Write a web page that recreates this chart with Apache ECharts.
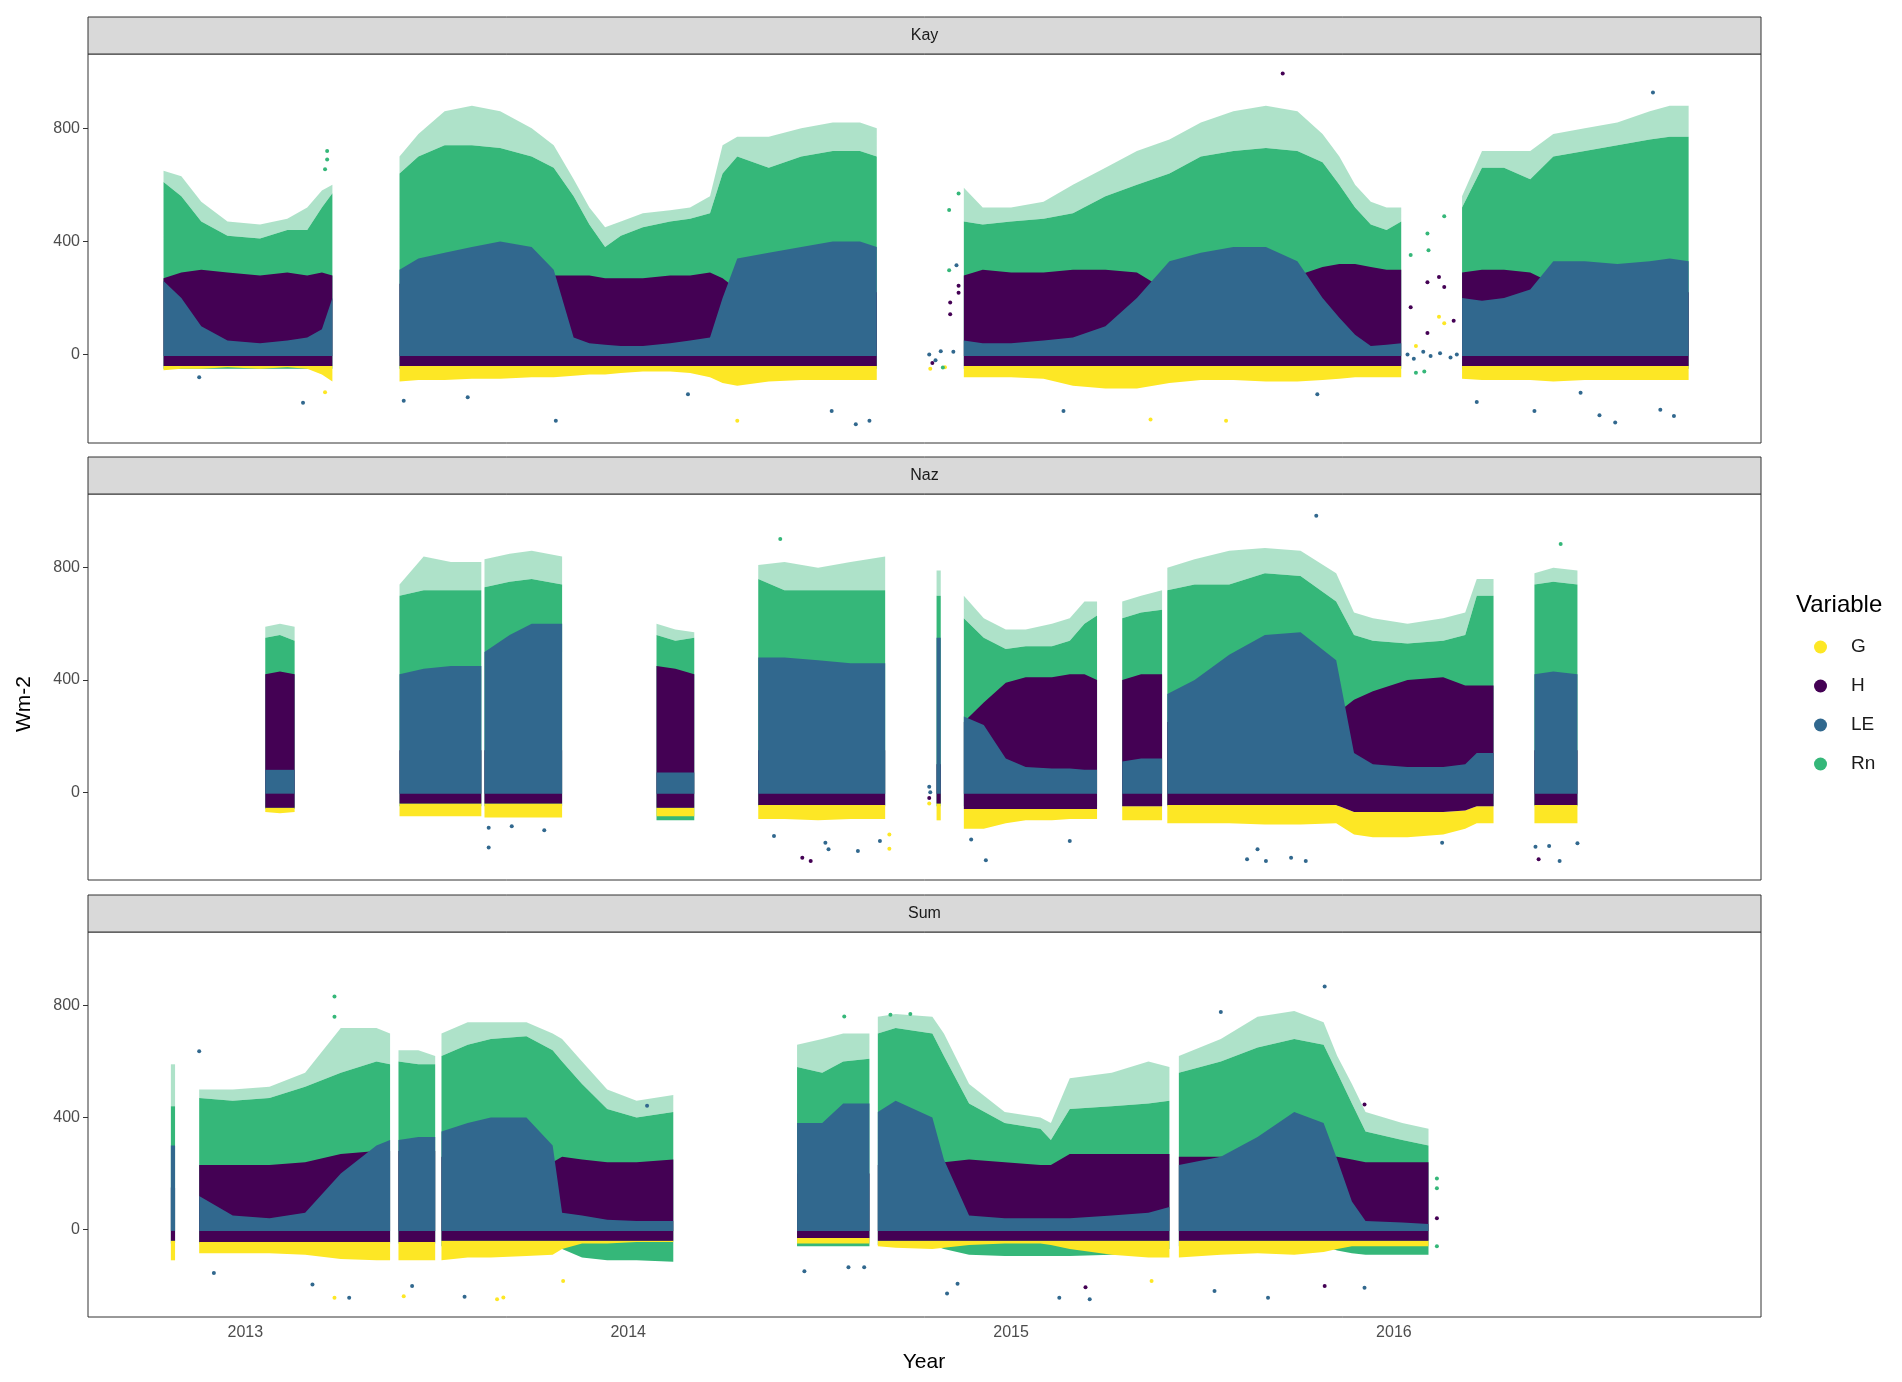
<!DOCTYPE html>
<html lang="en">
<head>
<meta charset="UTF-8">
<title>Energy fluxes</title>
<style>
    *{ margin:0; padding:0; }
    body{ background:#fff; }
    #box{ width:1902px; height:1382px; }
</style>
<script src="https://cdn.jsdelivr.net/npm/echarts@6/dist/echarts.min.js"></script>
</head>
<body>
<div id="box"></div>
<script>
// x range and ticks
var xMin = '2012-08-04';
var xMax = '2016-12-16';
var yearTicks = ['2013-01-01', '2014-01-01', '2015-01-01', '2016-01-01'];
var yearLabels = ['2013', '2014', '2015', '2016'];
var yTicks = [0, 400, 800];
var sites = ['Kay', 'Naz', 'Sum'];
var variables = ['G', 'H', 'LE', 'Rn'];
// bottom of the LE cloud per site
var leFloor = [-5, -5, -5];

// ---- Kay: envelopes of the point clouds (null = gap in the record)
var kayDates = [
    '2012-10-15','2012-11-01','2012-11-20','2012-12-15','2013-01-15','2013-02-10','2013-03-01','2013-03-15','2013-03-25', null,
    '2013-05-28','2013-06-15','2013-07-10','2013-08-05','2013-09-01','2013-10-01','2013-10-22','2013-11-10','2013-11-25','2013-12-10','2013-12-25',
    '2014-01-15','2014-02-10','2014-03-01','2014-03-20','2014-04-01','2014-04-15','2014-05-15','2014-06-15','2014-07-15','2014-08-10','2014-08-26', null,
    '2014-11-17','2014-12-05','2015-01-01','2015-02-01','2015-03-01','2015-04-01','2015-05-01','2015-06-01','2015-07-01','2015-08-01','2015-09-01',
    '2015-10-01','2015-10-25','2015-11-10','2015-11-25','2015-12-10','2015-12-25','2016-01-08', null,
    '2016-03-06','2016-03-25','2016-04-15','2016-05-10','2016-06-01','2016-07-01','2016-08-01','2016-09-01','2016-09-20','2016-10-08'
];
var kayRnMax = [
    650,630,540,470,460,480,520,580,600, null,
    700,780,860,880,860,800,740,620,520,450,470,500,510,520,560,740,770,770,800,820,820,800, null,
    590,520,520,540,600,660,720,760,820,860,880,860,780,700,600,540,520,520, null,
    560,720,720,720,780,800,820,860,880,880
];
var kayRnHi = [
    610,560,470,420,410,440,440,520,570, null,
    640,700,740,740,730,700,660,560,460,380,420,450,470,480,500,640,700,660,700,720,720,700, null,
    470,460,470,480,500,560,600,640,700,720,730,720,680,600,520,460,440,470, null,
    520,660,660,620,700,720,740,760,770,770
];
var kayRnLo = [
    -50,-50,-50,-50,-50,-50,-50,-50,-50, null,
    -50,-50,-50,-50,-50,-50,-50,-50,-50,-50,-50,-50,-50,-50,-50,-50,-50,-50,-50,-50,-50,-50, null,
    -50,-50,-50,-50,-50,-50,-50,-50,-50,-50,-50,-50,-50,-50,-50,-50,-50,-50, null,
    -50,-50,-50,-50,-50,-50,-50,-50,-50,-50
];
var kayHHi = [
    270,290,300,290,280,290,280,290,280, null,
    250,250,250,250,250,260,280,280,280,270,270,270,280,280,290,270,230,220,220,220,220,220, null,
    280,300,290,290,300,300,290,220,220,220,220,280,310,320,320,310,300,300, null,
    290,300,300,290,250,220,220,220,220,220
];
var kayHLo = [
    -40,-40,-40,-40,-40,-40,-40,-40,-40, null,
    -40,-40,-40,-40,-40,-40,-40,-40,-40,-40,-40,-40,-40,-40,-40,-40,-40,-40,-40,-40,-40,-40, null,
    -40,-40,-40,-40,-40,-40,-40,-40,-40,-40,-40,-40,-40,-40,-40,-40,-40,-40, null,
    -40,-40,-40,-40,-40,-40,-40,-40,-40,-40
];
var kayLEHi = [
    260,200,100,50,40,50,60,90,200, null,
    300,340,360,380,400,380,300,60,40,35,30,30,40,50,60,200,340,360,380,400,400,380, null,
    50,40,40,50,60,100,200,330,360,380,380,330,200,130,70,30,35,40, null,
    200,190,200,230,330,330,320,330,340,330
];
var kayGLo = [
    -55,-50,-50,-45,-50,-45,-50,-70,-95, null,
    -95,-90,-90,-85,-85,-80,-80,-75,-70,-70,-65,-60,-60,-65,-80,-100,-110,-95,-90,-90,-90,-90, null,
    -80,-80,-80,-85,-110,-120,-120,-100,-90,-90,-95,-95,-90,-85,-80,-80,-80,-80, null,
    -85,-90,-90,-90,-95,-90,-90,-90,-90,-90
];
// Kay single points (outliers and sparse stretches)
var kayPtsG = [['2014-04-15',-234],['2015-05-14',-229],['2015-07-25',-234],['2013-03-18',-133],['2016-02-13',134],['2016-02-18',111],['2016-01-22',30],['2014-10-16',-50],['2014-10-30',-45]];
var kayPtsH = [['2015-09-17',994],['2016-02-13',274],['2016-02-18',239],['2016-02-02',256],['2016-01-17',167],['2016-02-02',76],['2016-02-27',120],['2014-11-04',184],['2014-11-04',143],['2014-11-12',243],['2014-11-12',219],['2014-10-18',-30]];
var kayPtsLE = [['2013-02-25',-170],['2012-11-18',-80],['2013-10-24',-234],['2013-06-01',-163],['2013-08-01',-151],['2014-02-27',-140],['2014-08-06',-246],['2014-08-19',-234],['2014-07-14',-199],['2015-02-20',-199],['2016-09-04',926],['2016-07-30',-240],['2016-09-24',-217],['2016-03-20',-168],['2015-10-20',-140],
    ['2016-05-14',-199],['2016-06-27',-135],['2016-07-15',-214],['2016-09-11',-195],
    ['2016-01-14',0],['2016-01-20',-15],['2016-01-29',10],['2016-02-05',-5],['2016-02-14',5],['2016-02-24',-10],['2016-03-01',0],
    ['2014-10-15',0],['2014-10-21',-20],['2014-10-26',12],['2014-11-07',10],['2014-11-10',316]];
var kayPtsRn = [['2013-03-20',720],['2013-03-20',690],['2013-03-18',655],['2016-01-17',352],['2016-02-02',428],['2016-02-03',369],['2016-02-18',489],['2016-01-22',-64],['2016-01-30',-60],['2014-11-03',298],['2014-11-12',569],['2014-11-03',511],['2014-10-28',-46]];

// ---- Naz
var nazDates = [
    '2013-01-20','2013-02-03','2013-02-17', null,
    '2013-05-28','2013-06-20','2013-07-16','2013-08-14', null,
    '2013-08-17','2013-09-10','2013-10-01','2013-10-30', null,
    '2014-01-28','2014-02-15','2014-03-05', null,
    '2014-05-05','2014-05-30','2014-07-01','2014-08-01','2014-09-03', null,
    '2014-10-22','2014-10-26', null,
    '2014-11-17','2014-12-06','2014-12-27','2015-01-15','2015-02-09','2015-02-26','2015-03-12','2015-03-24', null,
    '2015-04-17','2015-05-05','2015-05-25', null,
    '2015-05-30','2015-06-25','2015-07-28','2015-08-31','2015-10-04','2015-11-07','2015-11-24','2015-12-12','2016-01-14','2016-02-17','2016-03-09','2016-03-20','2016-04-05', null,
    '2016-05-14','2016-06-01','2016-06-24'
];
var nazRnMax = [
    590,600,590, null,
    740,840,820,820, null,
    830,850,860,840, null,
    600,580,570, null,
    810,820,800,820,840, null,
    790,790, null,
    700,620,580,580,600,620,680,680, null,
    680,700,720, null,
    800,830,860,870,860,780,640,620,600,620,640,760,760, null,
    780,800,790
];
var nazRnHi = [
    550,560,540, null,
    700,720,720,720, null,
    730,750,760,740, null,
    560,540,550, null,
    760,720,720,720,720, null,
    700,700, null,
    620,550,510,520,520,540,600,630, null,
    620,640,650, null,
    720,740,740,780,770,680,560,540,530,540,560,700,700, null,
    740,750,740
];
var nazRnLo = [
    -60,-60,-60, null,
    -50,-50,-50,-50, null,
    -50,-50,-50,-50, null,
    -100,-100,-100, null,
    -50,-50,-50,-50,-50, null,
    -50,-50, null,
    -50,-50,-50,-50,-50,-50,-50,-50, null,
    -50,-50,-50, null,
    -50,-50,-50,-50,-50,-50,-50,-50,-50,-50,-50,-50,-50, null,
    -50,-50,-50
];
var nazHHi = [
    420,430,420, null,
    150,150,150,150, null,
    150,150,150,150, null,
    450,440,420, null,
    150,150,150,150,150, null,
    100,100, null,
    250,320,390,410,410,420,420,400, null,
    400,420,420, null,
    250,250,250,260,270,280,330,360,400,410,380,380,380, null,
    150,150,150
];
var nazHLo = [
    -55,-55,-55, null,
    -40,-40,-40,-40, null,
    -40,-40,-40,-40, null,
    -55,-55,-55, null,
    -45,-45,-45,-45,-45, null,
    -40,-40, null,
    -60,-60,-60,-60,-60,-60,-60,-60, null,
    -50,-50,-50, null,
    -45,-45,-45,-45,-45,-45,-70,-70,-70,-70,-65,-50,-50, null,
    -45,-45,-45
];
var nazLEHi = [
    80,80,80, null,
    420,440,450,450, null,
    500,560,600,600, null,
    70,70,70, null,
    480,480,470,460,460, null,
    550,550, null,
    270,240,120,90,85,85,80,80, null,
    110,120,120, null,
    350,400,490,560,570,470,140,100,90,90,100,140,140, null,
    420,430,420
];
var nazGLo = [
    -70,-75,-70, null,
    -85,-85,-85,-85, null,
    -90,-90,-90,-90, null,
    -85,-85,-85, null,
    -95,-95,-100,-95,-95, null,
    -100,-100, null,
    -130,-130,-110,-100,-100,-95,-95,-95, null,
    -100,-100,-100, null,
    -110,-110,-110,-115,-115,-110,-150,-160,-160,-150,-130,-110,-110, null,
    -110,-110,-110
];
var nazPtsG = [['2014-09-07',-150],['2014-09-07',-201],['2014-10-15',-40]];
var nazPtsH = [['2014-06-16',-233],['2014-06-24',-245],['2016-05-18',-239],['2014-10-15',-20]];
var nazPtsLE = [['2013-08-21',-126],['2013-08-21',-197],['2013-09-12',-121],['2013-10-13',-135],['2014-05-20',-156],['2014-07-08',-180],['2014-07-11',-203],['2014-08-08',-209],['2014-08-29',-174],['2014-12-08',-242],['2014-11-24',-168],['2015-02-26',-174],
    ['2015-08-14',-239],['2015-08-24',-203],['2015-09-01',-245],['2015-09-25',-233],['2015-10-09',-245],['2015-10-19',985],['2016-02-16',-180],['2016-05-15',-194],['2016-05-28',-191],['2016-06-07',-245],['2016-06-24',-182],['2014-10-15',20],['2014-10-16',0]];
var nazPtsRn = [['2016-06-08',884],['2014-05-26',902]];

// ---- Sum
var sumDates = [
    '2012-10-22','2012-10-26', null,
    '2012-11-18','2012-12-20','2013-01-24','2013-02-27','2013-04-02','2013-05-06','2013-05-19', null,
    '2013-05-27','2013-06-15','2013-07-01', null,
    '2013-07-07','2013-08-01','2013-08-23','2013-09-26','2013-10-21','2013-10-30','2013-11-18','2013-12-12','2014-01-09','2014-02-13', null,
    '2014-06-11','2014-07-05','2014-07-25','2014-08-19', null,
    '2014-08-27','2014-09-13','2014-10-18','2014-10-29','2014-11-22','2014-12-26','2015-01-29','2015-02-08','2015-02-26','2015-04-07','2015-05-12','2015-06-01', null,
    '2015-06-10','2015-07-20','2015-08-24','2015-09-28','2015-10-26','2015-11-08','2015-11-22','2015-12-05','2016-01-09','2016-02-03'
];
var sumRnMax = [
    590,590, null,
    500,500,510,560,720,720,700, null,
    640,640,620, null,
    700,740,740,740,700,680,600,500,460,480, null,
    660,680,700,700, null,
    760,770,760,700,520,420,400,380,540,560,600,580, null,
    620,680,760,780,740,620,520,420,380,360
];
var sumRnHi = [
    440,440, null,
    470,460,470,510,560,600,590, null,
    600,590,590, null,
    620,660,680,690,640,600,520,430,400,420, null,
    580,560,600,610, null,
    700,720,700,620,450,380,360,320,430,440,450,460, null,
    560,600,650,680,660,560,450,350,320,300
];
var sumRnLo = [
    -50,-50, null,
    -50,-50,-50,-50,-50,-50,-50, null,
    -50,-50,-50, null,
    -60,-60,-60,-60,-60,-70,-100,-110,-110,-115, null,
    -60,-60,-60,-60, null,
    -55,-55,-55,-70,-90,-95,-95,-95,-95,-90,-80,-70, null,
    -60,-60,-60,-60,-60,-75,-85,-90,-90,-90
];
var sumHHi = [
    150,150, null,
    230,230,230,240,270,280,280, null,
    280,280,280, null,
    260,230,230,230,240,260,250,240,240,250, null,
    200,200,200,200, null,
    230,230,230,240,250,240,230,230,270,270,270,270, null,
    260,260,260,260,260,260,250,240,240,240
];
var sumHLo = [
    -40,-40, null,
    -45,-45,-45,-45,-45,-45,-45, null,
    -45,-45,-45, null,
    -40,-40,-40,-40,-40,-40,-40,-40,-40,-40, null,
    -30,-30,-30,-30, null,
    -40,-40,-40,-40,-40,-40,-40,-40,-40,-40,-40,-40, null,
    -40,-40,-40,-40,-40,-40,-40,-40,-40,-40
];
var sumLEHi = [
    300,300, null,
    120,50,40,60,200,300,320, null,
    320,330,330, null,
    350,380,400,400,300,60,50,35,30,30, null,
    380,380,450,450, null,
    420,460,400,250,50,40,40,40,40,50,60,80, null,
    230,260,330,420,380,250,100,30,25,20
];
var sumGLo = [
    -110,-110, null,
    -85,-85,-85,-90,-105,-110,-110, null,
    -110,-110,-110, null,
    -110,-100,-100,-95,-90,-70,-50,-50,-45,-45, null,
    -50,-50,-50,-50, null,
    -60,-65,-70,-65,-55,-50,-50,-55,-70,-90,-100,-100, null,
    -100,-90,-85,-90,-80,-70,-60,-60,-60,-60
];
var sumPtsG = [['2013-03-27',-244],['2013-06-01',-238],['2013-08-29',-249],['2013-09-04',-243],['2013-10-31',-184],['2015-05-15',-184]];
var sumPtsH = [['2015-03-13',-206],['2015-12-04',446],['2015-10-27',-202],['2016-02-11',40]];
var sumPtsLE = [['2012-12-02',-155],['2013-03-06',-196],['2013-04-10',-244],['2013-06-09',-202],['2013-07-29',-240],['2014-01-19',442],['2014-06-18',-149],['2014-07-30',-135],['2014-08-14',-135],['2014-11-01',-229],['2014-11-11',-194],
    ['2015-02-16',-244],['2015-03-17',-249],['2015-07-20',777],['2015-10-27',868],['2015-09-03',-244],['2015-07-14',-220],['2015-12-04',-208],['2012-11-18',637]];
var sumPtsRn = [['2013-03-27',832],['2013-03-27',760],['2016-02-11',182],['2016-02-11',147],['2016-02-11',-60],['2014-07-26',761],['2014-09-08',767],['2014-09-27',770]];

var colors = { G: '#FDE725', H: '#440154', LE: '#31688E', Rn: '#35B779' };
var font = '"Liberation Sans", Arial, sans-serif';

var panels = [
    { dates: kayDates, rnMax: kayRnMax, rnHi: kayRnHi, rnLo: kayRnLo, hHi: kayHHi, hLo: kayHLo, leHi: kayLEHi, gLo: kayGLo,
      pts: { G: kayPtsG, H: kayPtsH, LE: kayPtsLE, Rn: kayPtsRn } },
    { dates: nazDates, rnMax: nazRnMax, rnHi: nazRnHi, rnLo: nazRnLo, hHi: nazHHi, hLo: nazHLo, leHi: nazLEHi, gLo: nazGLo,
      pts: { G: nazPtsG, H: nazPtsH, LE: nazPtsLE, Rn: nazPtsRn } },
    { dates: sumDates, rnMax: sumRnMax, rnHi: sumRnHi, rnLo: sumRnLo, hHi: sumHHi, hLo: sumHLo, leHi: sumLEHi, gLo: sumGLo,
      pts: { G: sumPtsG, H: sumPtsH, LE: sumPtsLE, Rn: sumPtsRn } }
];

// panel placement
var gridTops = [54, 494, 932];
var gridHeights = [389, 386, 385];
var gridLeft = 88, gridRight = 141, stripH = 37;

// split the envelope into continuous stretches
function segments(dates, lo, hi) {
    var segs = [], cur = [];
    for (var i = 0; i < dates.length; i++) {
        if (dates[i] === null) {
            if (cur.length) segs.push(cur);
            cur = [];
            continue;
        }
        cur.push({ t: Date.parse(dates[i]), lo: typeof lo === 'number' ? lo : lo[i], hi: hi[i] });
    }
    if (cur.length) segs.push(cur);
    return segs;
}

function band(name, segs, gi, opacity, z) {
    return {
        type: 'custom', name: name, xAxisIndex: gi, yAxisIndex: gi, z: z, silent: true,
        itemStyle: { color: colors[name] },
        encode: { x: [0, 1], y: [2, 3] },
        data: segs.map(function (s) {
            return [s[0].t, s[s.length - 1].t,
                Math.min.apply(null, s.map(function (p) { return p.lo; })),
                Math.max.apply(null, s.map(function (p) { return p.hi; }))];
        }),
        renderItem: function (params, api) {
            var s = segs[params.dataIndex];
            var top = s.map(function (p) { return api.coord([p.t, p.hi]); });
            var bot = s.slice().reverse().map(function (p) { return api.coord([p.t, p.lo]); });
            return { type: 'polygon', shape: { points: top.concat(bot) }, style: { fill: colors[name], opacity: opacity } };
        }
    };
}

function dots(name, pts, gi) {
    return {
        type: 'scatter', name: name, xAxisIndex: gi, yAxisIndex: gi, z: 8, silent: true,
        symbolSize: 4, itemStyle: { color: colors[name], opacity: 1 },
        data: pts.map(function (p) { return [Date.parse(p[0]), p[1]]; })
    };
}

var series = [];
panels.forEach(function (p, i) {
    series.push(band('Rn', segments(p.dates, p.rnHi, p.rnMax), i, 0.4, 2));
    series.push(band('Rn', segments(p.dates, p.rnLo, p.rnHi), i, 1, 3));
    series.push(band('G', segments(p.dates, p.gLo, p.hLo), i, 1, 4));
    series.push(band('H', segments(p.dates, p.hLo, p.hHi), i, 1, 5));
    series.push(band('LE', segments(p.dates, leFloor[i], p.leHi), i, 1, 6));
    variables.forEach(function (v) { series.push(dots(v, p.pts[v], i)); });
});

var tickMs = yearTicks.map(function (d) { return Date.parse(d); });

var grids = [], xAxes = [], yAxes = [], graphics = [];
for (var i = 0; i < 3; i++) {
    grids.push({ left: gridLeft, right: gridRight, top: gridTops[i], height: gridHeights[i],
        show: true, borderColor: '#333', borderWidth: 1, backgroundColor: 'transparent' });
    // x as milliseconds on a value axis, year ticks placed explicitly
    xAxes.push({
        type: 'value', gridIndex: i, min: Date.parse(xMin), max: Date.parse(xMax),
        axisLine: { show: false }, splitLine: { show: false },
        axisTick: { show: i === 2, customValues: tickMs, length: 5, lineStyle: { color: '#333' } },
        axisLabel: { show: i === 2, customValues: tickMs, fontSize: 16, color: '#4d4d4d', fontFamily: font, margin: 8,
            formatter: function (v) { return yearLabels[tickMs.indexOf(v)]; } }
    });
    yAxes.push({
        type: 'value', gridIndex: i, min: -312.5, max: 1062.5,
        axisLine: { show: false }, splitLine: { show: false },
        axisTick: { show: true, customValues: yTicks, length: 5, lineStyle: { color: '#333' } },
        axisLabel: { customValues: yTicks, fontSize: 16, color: '#4d4d4d', fontFamily: font, margin: 8 }
    });
    // facet strip
    graphics.push({ type: 'rect', shape: { x: gridLeft, y: gridTops[i] - stripH, width: 1902 - gridLeft - gridRight, height: stripH },
        style: { fill: '#d9d9d9', stroke: '#333', lineWidth: 1 } });
    graphics.push({ type: 'text', x: gridLeft + (1902 - gridLeft - gridRight) / 2, y: gridTops[i] - stripH / 2,
        style: { text: sites[i], fill: '#1a1a1a', font: '16px ' + font, align: 'center', verticalAlign: 'middle' } });
}
graphics.push({ type: 'text', x: 924, y: 1362, style: { text: 'Year', fill: '#000', font: '21px ' + font, align: 'center', verticalAlign: 'middle' } });
graphics.push({ type: 'text', x: 24, y: 704, rotation: Math.PI / 2,
    style: { text: 'Wm-2', fill: '#000', font: '21px ' + font, align: 'center', verticalAlign: 'middle' } });
graphics.push({ type: 'text', x: 1796, y: 605, style: { text: 'Variable', fill: '#000', font: '24px ' + font, align: 'left', verticalAlign: 'middle' } });

var myChart = echarts.init(document.getElementById('box'));
myChart.setOption({
    animation: false,
    backgroundColor: '#fff',
    grid: grids,
    xAxis: xAxes,
    yAxis: yAxes,
    legend: {
        orient: 'vertical', left: 1814, top: 637, icon: 'circle', padding: 0,
        itemWidth: 13, itemHeight: 13, itemGap: 19, selectedMode: false,
        textStyle: { fontSize: 19, color: '#1a1a1a', fontFamily: font, lineHeight: 20, padding: [0, 0, 0, 19] },
        data: variables.map(function (v) { return { name: v, itemStyle: { color: colors[v], opacity: 1 } }; })
    },
    graphic: graphics,
    series: series
});
</script>
</body>
</html>
